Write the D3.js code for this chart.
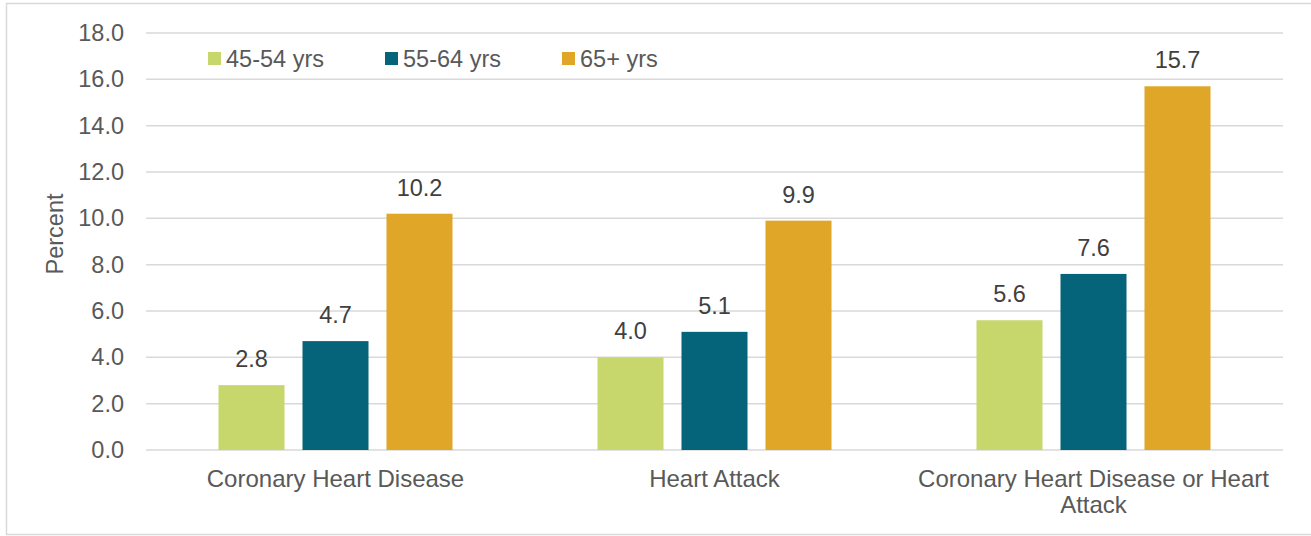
<!DOCTYPE html>
<html>
<head>
<meta charset="utf-8">
<script src="https://cdn.jsdelivr.net/npm/d3@7"></script>
<style>
  html, body { margin: 0; padding: 0; background: #fff; }
  svg { display: block; font-family: "Liberation Sans", Arial, sans-serif; }
</style>
</head>
<body>
<svg id="chart" width="1311" height="536"></svg>
<script>
// Prevalence by age group
const categories = [["Coronary Heart Disease"], ["Heart Attack"], ["Coronary Heart Disease or Heart", "Attack"]];
const seriesNames = ["45-54 yrs", "55-64 yrs", "65+ yrs"];
const seriesColors = ["#c7d76b", "#05637a", "#e0a628"];
const values4554 = [2.8, 4.0, 5.6];
const values5564 = [4.7, 5.1, 7.6];
const values65 = [10.2, 9.9, 15.7];
const yTicks = [0, 2, 4, 6, 8, 10, 12, 14, 16, 18];

const seriesValues = [values4554, values5564, values65];
const svg = d3.select("#chart");
const W = 1311, H = 536;
const margin = { left: 146, right: 28, top: 33, bottom: 86 };
const textColor = "#595959";
const fontSize = 23.5;

// Outer chart frame
svg.append("rect")
  .attr("x", 6.5).attr("y", 3.5)
  .attr("width", W).attr("height", 531)
  .attr("fill", "none").attr("stroke", "#d9d9d9").attr("stroke-width", 1.5);

const catKeys = categories.map((c, i) => i);
const x0 = d3.scaleBand().domain(catKeys).range([margin.left, W - margin.right]).padding(0);
const groupFrac = 234 / 379;
const x1 = d3.scaleBand().domain(d3.range(seriesNames.length))
  .range([0, x0.bandwidth() * groupFrac]).paddingInner(18 / 84).paddingOuter(0);
const groupOffset = x0.bandwidth() * (1 - groupFrac) / 2;
const y = d3.scaleLinear().domain([0, 18]).range([H - margin.bottom, margin.top]);

// Horizontal gridlines
svg.append("g")
  .selectAll("line").data(yTicks).join("line")
  .attr("x1", margin.left).attr("x2", W - margin.right)
  .attr("y1", d => y(d)).attr("y2", d => y(d))
  .attr("stroke", "#d9d9d9").attr("stroke-width", 1.5);

// Y axis tick labels
const yAxis = d3.axisLeft(y).tickValues(yTicks).tickFormat(d3.format(".1f")).tickSize(0).tickPadding(0);
const gy = svg.append("g").attr("transform", `translate(124,0)`).call(yAxis);
gy.select(".domain").remove();
gy.selectAll("text").attr("fill", textColor).attr("font-size", fontSize).attr("font-family", "Liberation Sans, Arial, sans-serif");

// Y axis title
svg.append("text")
  .attr("transform", "translate(63,234) rotate(-90)")
  .attr("text-anchor", "middle")
  .attr("fill", textColor).attr("font-size", fontSize)
  .text("Percent");

// Bars
const groups = svg.append("g").selectAll("g").data(catKeys).join("g")
  .attr("transform", d => `translate(${x0(d) + groupOffset},0)`);

groups.selectAll("rect").data(ci => seriesValues.map((vals, si) => ({ si, v: vals[ci] })))
  .join("rect")
  .attr("x", d => x1(d.si)).attr("width", x1.bandwidth())
  .attr("y", d => y(d.v)).attr("height", d => y(0) - y(d.v))
  .attr("fill", d => seriesColors[d.si]);

// Value labels
groups.selectAll("text.val").data(ci => seriesValues.map((vals, si) => ({ si, v: vals[ci] })))
  .join("text").attr("class", "val")
  .attr("x", d => x1(d.si) + x1.bandwidth() / 2)
  .attr("y", d => y(d.v) - 18)
  .attr("text-anchor", "middle")
  .attr("fill", "#404040").attr("font-size", fontSize)
  .text(d => d.v.toFixed(1));

// Category labels
const catLabels = svg.append("g").selectAll("text").data(catKeys).join("text")
  .attr("x", d => x0(d) + x0.bandwidth() / 2)
  .attr("y", 487)
  .attr("text-anchor", "middle")
  .attr("fill", textColor).attr("font-size", 24);
catLabels.selectAll("tspan").data(d => categories[d]).join("tspan")
  .attr("x", function () { return d3.select(this.parentNode).attr("x"); })
  .attr("dy", (d, i) => i === 0 ? 0 : 26)
  .text(d => d);

// Legend
const legendX = [208, 385, 562];
const legend = svg.append("g").selectAll("g").data(seriesNames).join("g")
  .attr("transform", (d, i) => `translate(${legendX[i]},52)`);
legend.append("rect").attr("width", 13).attr("height", 13).attr("fill", (d, i) => seriesColors[i]);
legend.append("text").attr("x", 18).attr("y", 14.5)
  .attr("fill", textColor).attr("font-size", fontSize).text(d => d);
</script>
</body>
</html>
